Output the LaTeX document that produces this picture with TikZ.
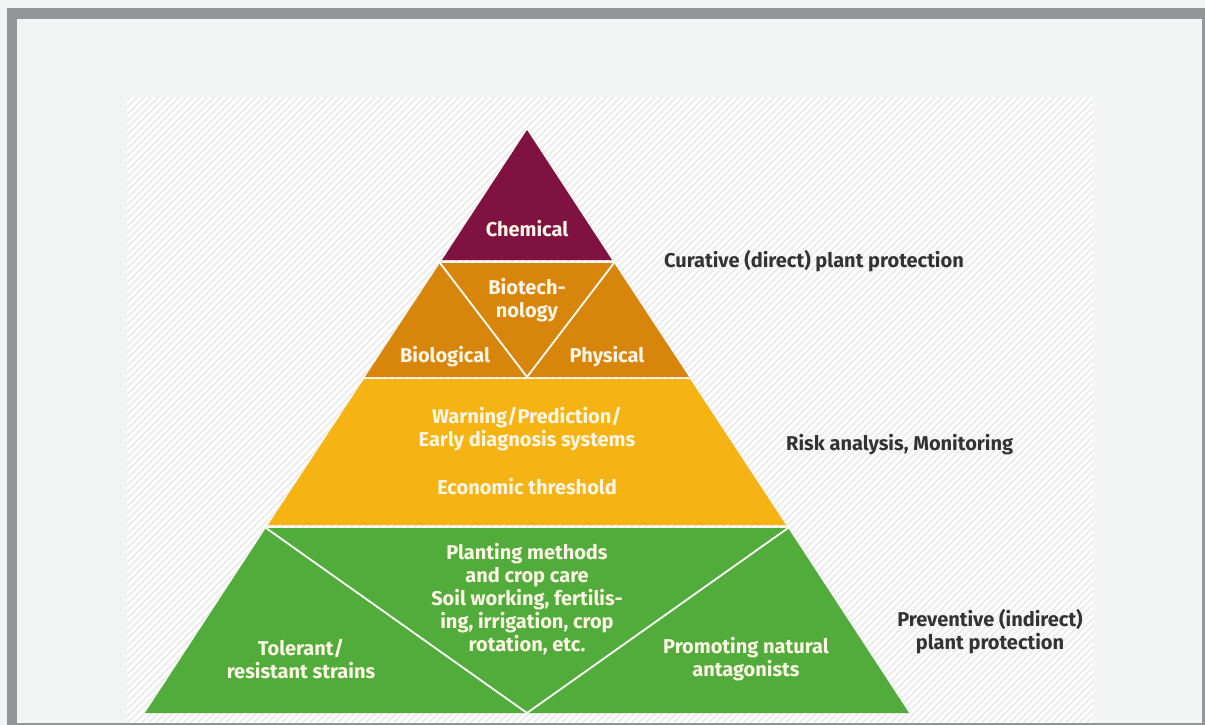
\documentclass[tikz,border=0pt]{standalone}
\usepackage{fontspec}
\setmainfont{Fira Sans}
\definecolor{outerbg}{HTML}{F2F3F3}
\definecolor{framegray}{HTML}{939598}
\definecolor{innerbg}{HTML}{F3F4F4}
\definecolor{hatchbg}{HTML}{EDEDED}
\definecolor{chem}{HTML}{7F1241}
\definecolor{orangeband}{HTML}{D8850B}
\definecolor{yellowband}{HTML}{F6B414}
\definecolor{greenband}{HTML}{52AC3B}
\definecolor{labeltext}{HTML}{FFF6E6}
\definecolor{sidetext}{HTML}{333333}
\tikzset{
  lbl/.style={font=\bfseries\fontsize{20}{23}\selectfont, text=labeltext, align=center, inner sep=0pt},
  side/.style={font=\bfseries\fontsize{20}{23}\selectfont, text=sidetext, align=center, inner sep=0pt},
  sep/.style={white, line width=1.8pt}
}
\begin{document}
\begin{tikzpicture}[x=1pt,y=-1pt]
\useasboundingbox (0,0) rectangle (1205,725);
\fill[outerbg] (0,0) rectangle (1205,725);
\fill[framegray] (7,8) rectangle (1205,725); % frame
\fill[innerbg] (17,19) rectangle (1202,723);
\fill[hatchbg] (127,97) rectangle (1093,722); % hatched panel
\begin{scope}
  \clip (127,97) rectangle (1093,722);
  \foreach \i in {0,7,...,1600}
    \draw[white, line width=2.6pt] (127+\i,97) -- ++(-640,640);
\end{scope}
% pyramid corners
\coordinate (apex) at (527,130);
\coordinate (c1l) at (442,260); \coordinate (c1r) at (612,260);
\coordinate (o1l) at (440,263); \coordinate (o1r) at (614,263);
\coordinate (o2l) at (365,377); \coordinate (o2r) at (689,377);
\coordinate (om) at (527,377);
\coordinate (y1l) at (364,379); \coordinate (y1r) at (690,379);
\coordinate (y2l) at (268,525); \coordinate (y2r) at (786,525);
\coordinate (g1l) at (266,528); \coordinate (g1r) at (788,528);
\coordinate (g2l) at (145,713); \coordinate (g2r) at (909,713);
\coordinate (gm) at (527,713);
\fill[chem] (apex) -- (c1r) -- (c1l) -- cycle;
\fill[orangeband] (o1l) -- (o1r) -- (o2r) -- (o2l) -- cycle;
\fill[yellowband] (y1l) -- (y1r) -- (y2r) -- (y2l) -- cycle;
\fill[greenband] (g1l) -- (g1r) -- (g2r) -- (g2l) -- cycle;
\draw[sep] (o1l) -- (om) -- (o1r);
\draw[sep] (g1l) -- (gm) -- (g1r);
% labels
\node[lbl] (chemical) at (527,229) {Chemical};
\node[lbl] (biotech) at (527,300) {Biotech-\\nology};
\node[lbl] (biological) at (445,357) {Biological};
\node[lbl] (physical) at (607,357) {Physical};
\node[lbl] (warning) at (527,429) {Warning/Prediction/\\Early diagnosis systems};
\node[lbl] (threshold) at (527,487) {Economic threshold};
\node[lbl] (planting) at (527,599) {Planting methods\\and crop care\\Soil working, fertilis-\\ing, irrigation, crop\\rotation, etc.};
\node[lbl] (tolerant) at (301,659) {Tolerant/\\resistant strains};
\node[lbl] (promoting) at (746,659) {Promoting natural\\antagonists};
\node[side, anchor=west] (curative) at (664,261) {Curative (direct) plant protection};
\node[side, anchor=west] (risk) at (786,445) {Risk analysis, Monitoring};
\node[side] (preventive) at (990,632) {Preventive (indirect)\\plant protection};
\end{tikzpicture}
\end{document}
